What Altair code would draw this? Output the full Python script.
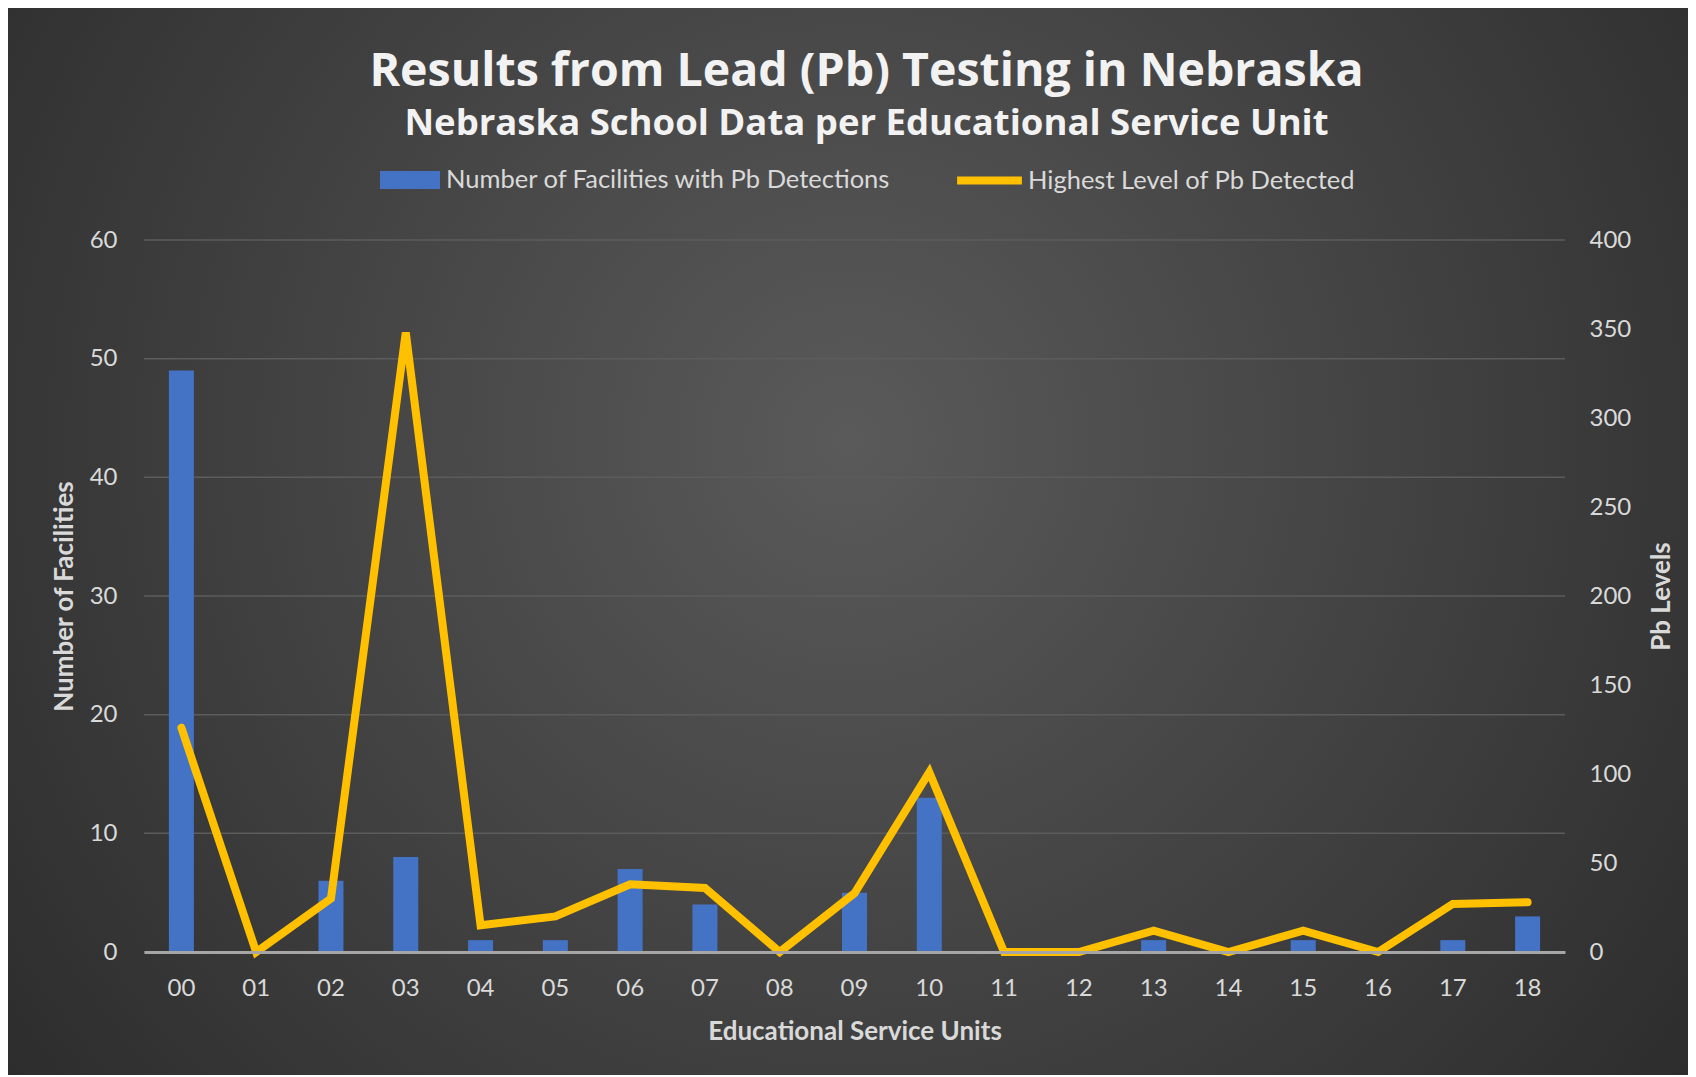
import altair as alt
import pandas as pd

esu = ["00", "01", "02", "03", "04", "05", "06", "07", "08", "09",
       "10", "11", "12", "13", "14", "15", "16", "17", "18"]
facilities = [49, 0, 6, 8, 1, 1, 7, 4, 0, 5, 13, 0, 0, 1, 0, 1, 0, 1, 3]
pb_levels = [126, 0, 30, 348, 15, 20, 38, 36, 0, 33, 101, 0, 0, 12, 0, 12, 0, 27, 28]
left_ticks = [0, 10, 20, 30, 40, 50, 60]
right_ticks = [0, 50, 100, 150, 200, 250, 300, 350, 400]

bar_label = "Number of Facilities with Pb Detections"
line_label = "Highest Level of Pb Detected"

df = pd.DataFrame({"esu": esu, "facilities": facilities, "pb": pb_levels})
grid_df = pd.DataFrame({"v": left_ticks})

W, H = 1421, 712
PAD_L, PAD_T, PAD_R, PAD_B = 136, 232, 123, 123

FONT = "Lato"
TFONT = "Open Sans"
TXT = "#d9d9d9"

bg = alt.Chart(alt.Data(values=[{"a": 1}])).mark_rect(
    fill={
        "gradient": "radial",
        "x1": 0.5, "y1": 0.44, "r1": 0,
        "x2": 0.5, "y2": 0.44, "r2": 0.72,
        "stops": [
            {"offset": 0, "color": "#5a5a5a"},
            {"offset": 1, "color": "#262626"},
        ],
    },
    stroke=None,
).encode(
    x=alt.value(-PAD_L), x2=alt.value(W + PAD_R),
    y=alt.value(-PAD_T), y2=alt.value(H + PAD_B),
)

x_enc = alt.X(
    "esu:N", sort=esu,
    scale=alt.Scale(paddingInner=0, paddingOuter=0),
    axis=alt.Axis(
        title="Educational Service Units", labelAngle=0, ticks=False,
        domainColor="#a6a6a6", domainWidth=3, labelPadding=24,
        titlePadding=18, zindex=1, grid=False,
    ),
)

yleft_scale = alt.Scale(domain=[0, 60], nice=False)
yleft_axis = alt.Axis(
    title="Number of Facilities", values=left_ticks, ticks=False,
    domain=False, grid=False, labelPadding=27, titlePadding=12, zindex=1,
)

grid = alt.Chart(grid_df).mark_rule(color="#5c5c5c", strokeWidth=1.5).encode(
    y=alt.Y("v:Q", scale=yleft_scale, axis=yleft_axis),
)

bars = alt.Chart(df).mark_bar(size=25).encode(
    x=x_enc,
    y=alt.Y("facilities:Q", scale=yleft_scale, axis=yleft_axis),
    fill=alt.Fill(
        "series:N",
        scale=alt.Scale(domain=[bar_label], range=["#4472C4"]),
        legend=alt.Legend(
            title=None, orient="none", legendX=236, legendY=-90,
            symbolType="M-1,-0.3L1,-0.3L1,0.3L-1,0.3Z", symbolSize=3600,
            symbolStrokeWidth=0, labelOffset=6,
        ),
    ),
).transform_calculate(series=f"'{bar_label}'")

line = alt.Chart(df).mark_line(
    color="#FFC000", strokeWidth=8, strokeCap="round", strokeJoin="miter",
).encode(
    x=alt.X("esu:N", sort=esu),
    y=alt.Y(
        "pb:Q", scale=alt.Scale(domain=[0, 400], nice=False),
        axis=alt.Axis(
            title="Pb Levels", orient="right", values=right_ticks, ticks=False,
            domain=False, grid=False, labelPadding=24, titlePadding=44,
            titleAngle=270, zindex=1,
        ),
    ),
    stroke=alt.Stroke(
        "series:N",
        scale=alt.Scale(domain=[line_label], range=["#FFC000"]),
        legend=alt.Legend(
            title=None, orient="none", legendX=809, legendY=-96,
            symbolType="stroke", symbolSize=4200, symbolStrokeWidth=8,
            labelOffset=2,
        ),
    ),
).transform_calculate(series=f"'{line_label}'")

left = alt.layer(grid, bars)

chart = alt.layer(bg, left, line).resolve_scale(
    y="independent", fill="independent", stroke="independent"
).properties(
    width=W, height=H,
    padding={"left": PAD_L, "top": PAD_T, "right": PAD_R, "bottom": PAD_B},
    autosize=alt.AutoSizeParams(type="none"),
    background="#333333",
    title=alt.TitleParams(
        text="Results from Lead (Pb) Testing in Nebraska",
        subtitle="Nebraska School Data per Educational Service Unit",
        anchor="middle", frame="group", dx=12, offset=-134,
        font=TFONT, fontSize=46.5, fontWeight="bold", color="#f2f2f2",
        subtitleFont=TFONT, subtitleFontSize=36.5, subtitleFontWeight="bold",
        subtitleColor="#f2f2f2", subtitlePadding=10,
    ),
).configure_view(stroke=None).configure_axis(
    labelFont=FONT, labelFontSize=24, labelColor=TXT,
    titleFont=FONT, titleFontSize=26, titleFontWeight="bold", titleColor=TXT,
).configure_legend(
    labelFont=FONT, labelFontSize=25.5, labelColor=TXT, labelLimit=0,
)

chart.save("out.html", embed_options={"renderer": "svg", "actions": False})
